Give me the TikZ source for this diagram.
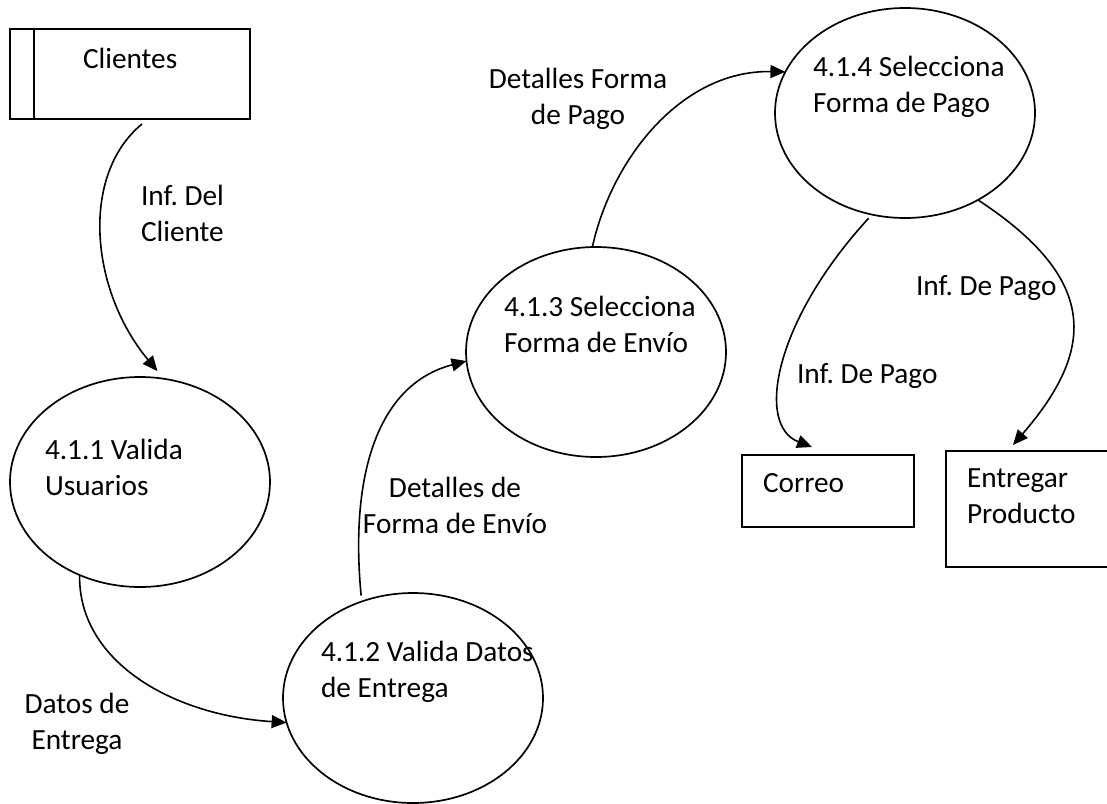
\documentclass[tikz,border=0pt]{standalone}
\usepackage{fontspec}
\setmainfont{Carlito}
\usetikzlibrary{shapes.geometric,arrows.meta}
\frenchspacing
\begin{document}
\begin{tikzpicture}[x=1pt,y=-1pt,
  every node/.style={inner sep=0pt, outer sep=0pt},
  lbl/.style={font=\fontsize{29.3}{35.5}\selectfont\frenchspacing, align=left, anchor=base west},
  clbl/.style={font=\fontsize{29.3}{35.5}\selectfont\frenchspacing, align=center, anchor=base},
  proc/.style={draw, ellipse, line width=1.7pt, minimum width=260pt, minimum height=210pt},
  store/.style={draw, rectangle, line width=1.7pt},
  flow/.style={line width=1.6pt, -{Triangle[length=15pt,width=13pt]}}]
\useasboundingbox (0,0) rectangle (1107,803);
\clip (0,0) rectangle (1107,803);

% external entity and stores
\node[store, minimum width=240pt, minimum height=90pt] (cl) at (130,74) {};
\draw[line width=1.7pt] ([xshift=24pt]cl.north west) -- ([xshift=24pt]cl.south west);
\node[store, minimum width=172pt, minimum height=72pt] (co) at (828,491) {};
\node[store, minimum width=166pt, minimum height=116pt] (ep) at (1029,509) {};

% processes
\node[proc] (e1) at (140,482) {};
\node[proc] (e2) at (413,698) {};
\node[proc] (e3) at (596,352) {};
\node[proc] (e4) at (905,113) {};

% texts inside shapes (base anchor = baseline of the last line)
\node[lbl] (tcl) at (83,68) {Clientes};
\node[lbl] (te1) at (45,495) {4.1.1 Valida\\Usuarios};
\node[lbl] (te2) at (321,697) {4.1.2 Valida Datos\\de Entrega};
\node[lbl] (te3) at (504,352) {4.1.3 Selecciona\\Forma de Envío};
\node[lbl] (te4) at (813,112) {4.1.4 Selecciona\\Forma de Pago};
\node[lbl] (tco) at (763,492) {Correo};
\node[lbl] (tep) at (967,523) {Entregar\\Producto};

% flow labels
\node[lbl] (f1) at (141,241) {Inf. Del\\Cliente};
\node[clbl] (f2) at (77,749) {Datos de\\Entrega};
\node[clbl] (f3) at (455,533) {Detalles de\\Forma de Envío};
\node[clbl] (f4) at (578,124) {Detalles Forma\\de Pago};
\node[lbl] (f5) at (797,383) {Inf. De Pago};
\node[lbl] (f6) at (916,295) {Inf. De Pago};

% data flows
\draw[flow, shorten >=10pt] ([xshift=12pt,yshift=-5pt]cl.south)
  .. controls (80,175) and (90,290) .. (e1.77);
\draw[flow] (e1.237) .. controls (78,660) and (170,715) .. (e2.191);
\draw[flow, shorten <=6pt] (e2.118) .. controls (350,480) and (375,385) .. (e3.184);
\draw[flow] (e3.92) .. controls (612,158) and (682,70) .. (e4.161);
\draw[flow, shorten <=5pt] (e4.252) .. controls (775,320) and (755,425) .. ([xshift=-16pt,yshift=8pt]co.north);
\draw[flow] (e4.310) .. controls (1100,280) and (1095,350) .. ([xshift=-16pt,yshift=6pt]ep.north);
\end{tikzpicture}
\end{document}
